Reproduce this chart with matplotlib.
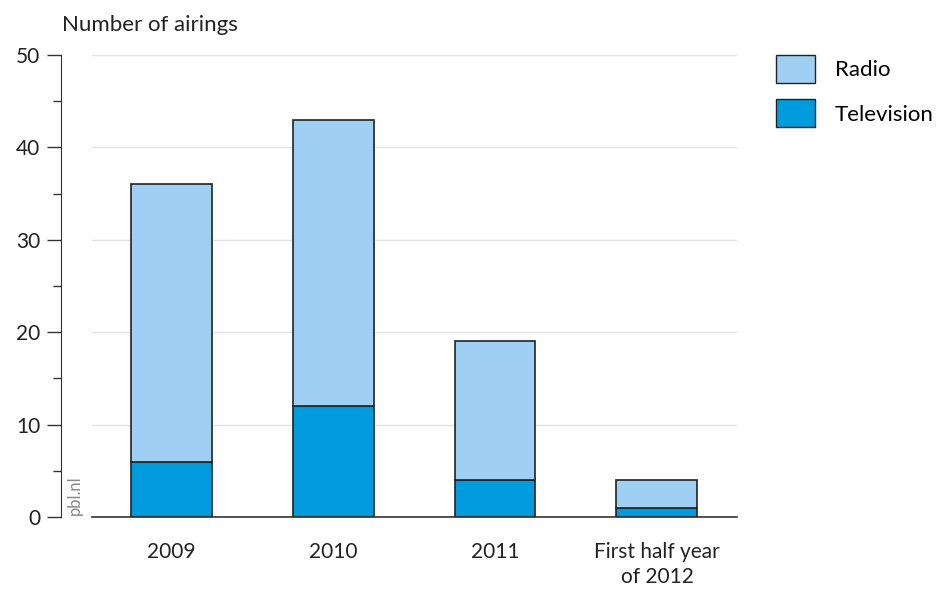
import matplotlib
matplotlib.use("Agg")
import matplotlib.pyplot as plt
from matplotlib.patches import Patch
from matplotlib.ticker import MultipleLocator

categories = ["2009", "2010", "2011", "First half year\nof 2012"]
television = [6, 12, 4, 1]
radio = [30, 31, 15, 3]

tv_color = "#009bdc"
radio_color = "#9fd0f3"
edge = "#222222"

plt.rcParams['font.family'] = ['Lato', 'DejaVu Sans']

fig = plt.figure(figsize=(9.38, 5.94), dpi=100)
ax = fig.add_axes([92/938, 1-517/594, (737-92)/938, (517-55)/594])

x = list(range(len(categories)))
ax.bar(x, television, width=0.5, color=tv_color, edgecolor=edge, linewidth=1.2, zorder=3)
ax.bar(x, radio, width=0.5, bottom=television, color=radio_color, edgecolor=edge, linewidth=1.2, zorder=3)

ax.set_xlim(-0.488, 3.494)
ax.set_ylim(0, 50)
ax.set_xticks(x)
ax.set_xticklabels(categories, fontsize=15, color="#222222", linespacing=1.3)
ax.tick_params(axis='x', length=0, pad=18)

ax.yaxis.set_major_locator(MultipleLocator(10))
ax.yaxis.set_minor_locator(MultipleLocator(5))
ax.tick_params(axis='y', which='major', length=10, width=1, color="#333333", labelsize=15, labelcolor="#222222", pad=5)
ax.tick_params(axis='y', which='minor', length=6, width=1, color="#333333")

for s in ['top', 'right']:
    ax.spines[s].set_visible(False)
ax.spines['left'].set_position(('outward', 31*72/100))
ax.spines['left'].set_color("#333333")
ax.spines['bottom'].set_color("#333333")
ax.spines['bottom'].set_linewidth(1.2)

ax.grid(axis='y', which='major', color="#e3e3e3", linewidth=1, zorder=0)
ax.set_axisbelow(True)

fig.text(62/938, 1-25/594, "Number of airings", fontsize=16, color="#222222", va='center', ha='left')
ax.text(-0.595, 0.2, "pbl.nl", rotation=90, fontsize=12, color="#888888", ha='center', va='bottom', clip_on=False)

handles = [Patch(facecolor=radio_color, edgecolor=edge, label="Radio"),
           Patch(facecolor=tv_color, edgecolor=edge, label="Television")]
fig.legend(handles=handles, loc='upper left', bbox_to_anchor=(756/938, 1-35/594), frameon=False,
           fontsize=16, handlelength=1.75, handleheight=1.55, handletextpad=0.9, labelspacing=0.75)

fig.savefig("out.png", dpi=100)
